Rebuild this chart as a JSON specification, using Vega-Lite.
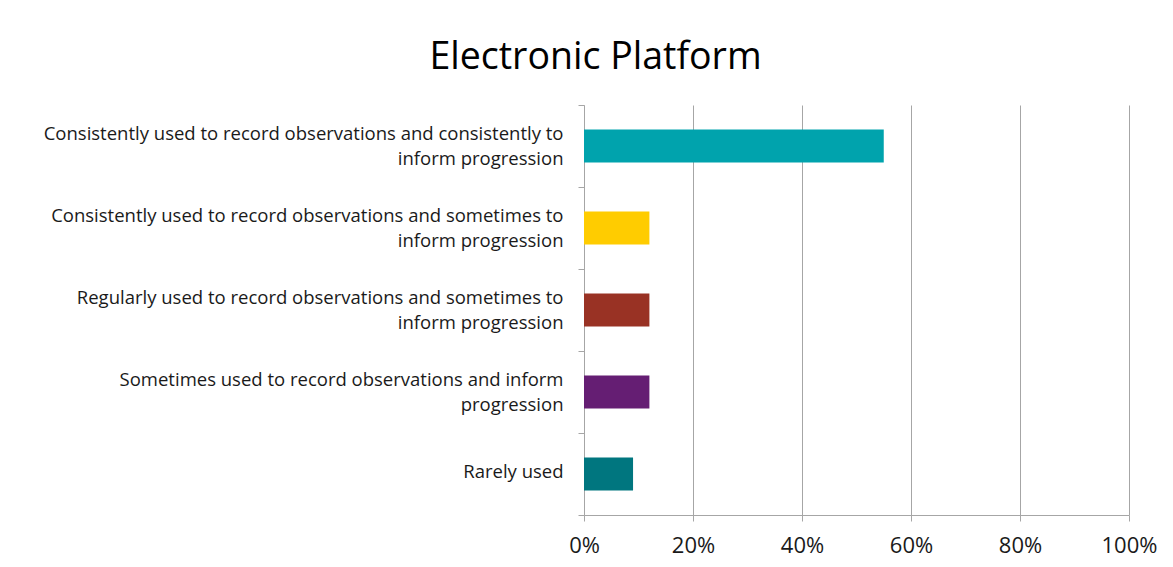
{
  "$schema": "https://vega.github.io/schema/vega-lite/v6.json",
  "width": 545,
  "height": 410,
  "autosize": {"type": "none"},
  "padding": {"left": 584, "top": 105, "right": 44, "bottom": 52},
  "background": "white",
  "title": {
    "text": "Electronic Platform",
    "font": "Open Sans",
    "fontSize": 37.5,
    "fontWeight": "normal",
    "color": "#000000",
    "anchor": "middle",
    "baseline": "alphabetic",
    "dx": -261,
    "offset": -10
  },
  "data": {
    "values": [
      {"category": "Consistently used to record observations and consistently to|inform progression", "value": 0.55},
      {"category": "Consistently used to record observations and sometimes to|inform progression", "value": 0.12},
      {"category": "Regularly used to record observations and sometimes to|inform progression", "value": 0.12},
      {"category": "Sometimes used to record observations and inform|progression", "value": 0.12},
      {"category": "Rarely used", "value": 0.09}
    ]
  },
  "mark": {"type": "bar", "height": {"band": 0.4}},
  "encoding": {
    "y": {
      "field": "category",
      "type": "nominal",
      "sort": null,
      "scale": {"paddingInner": 0, "paddingOuter": 0},
      "axis": {
        "title": null,
        "labelExpr": "split(datum.label, '|')",
        "labelFont": "Open Sans",
        "labelFontSize": 18.5,
        "labelLineHeight": 25,
        "labelColor": "#1a1a1a",
        "labelAlign": "right",
        "labelPadding": 15,
        "labelLimit": 700,
        "labelOffset": {"condition": {"test": "indexof(datum.label, '|') >= 0", "value": -12.5}, "value": -3},
        "tickBand": "extent",
        "tickSize": 6,
        "tickColor": "#a6a6a6",
        "domainColor": "#a6a6a6",
        "grid": false
      }
    },
    "x": {
      "field": "value",
      "type": "quantitative",
      "scale": {"domain": [0, 1], "nice": false},
      "axis": {
        "title": null,
        "format": ".0%",
        "values": [0, 0.2, 0.4, 0.6, 0.8, 1],
        "labelFont": "Open Sans",
        "labelFontSize": 22,
        "labelColor": "#1a1a1a",
        "labelPadding": 14,
        "tickSize": 6,
        "tickColor": "#a6a6a6",
        "domainColor": "#a6a6a6",
        "grid": true,
        "gridColor": "#a6a6a6",
        "labelFlush": false
      }
    },
    "color": {
      "field": "category",
      "type": "nominal",
      "sort": null,
      "legend": null,
      "scale": {
        "domain": [
          "Consistently used to record observations and consistently to|inform progression",
          "Consistently used to record observations and sometimes to|inform progression",
          "Regularly used to record observations and sometimes to|inform progression",
          "Sometimes used to record observations and inform|progression",
          "Rarely used"
        ],
        "range": ["#00A3AD", "#FFCC00", "#993224", "#651E73", "#00767F"]
      }
    }
  },
  "config": {"view": {"stroke": null}}
}
